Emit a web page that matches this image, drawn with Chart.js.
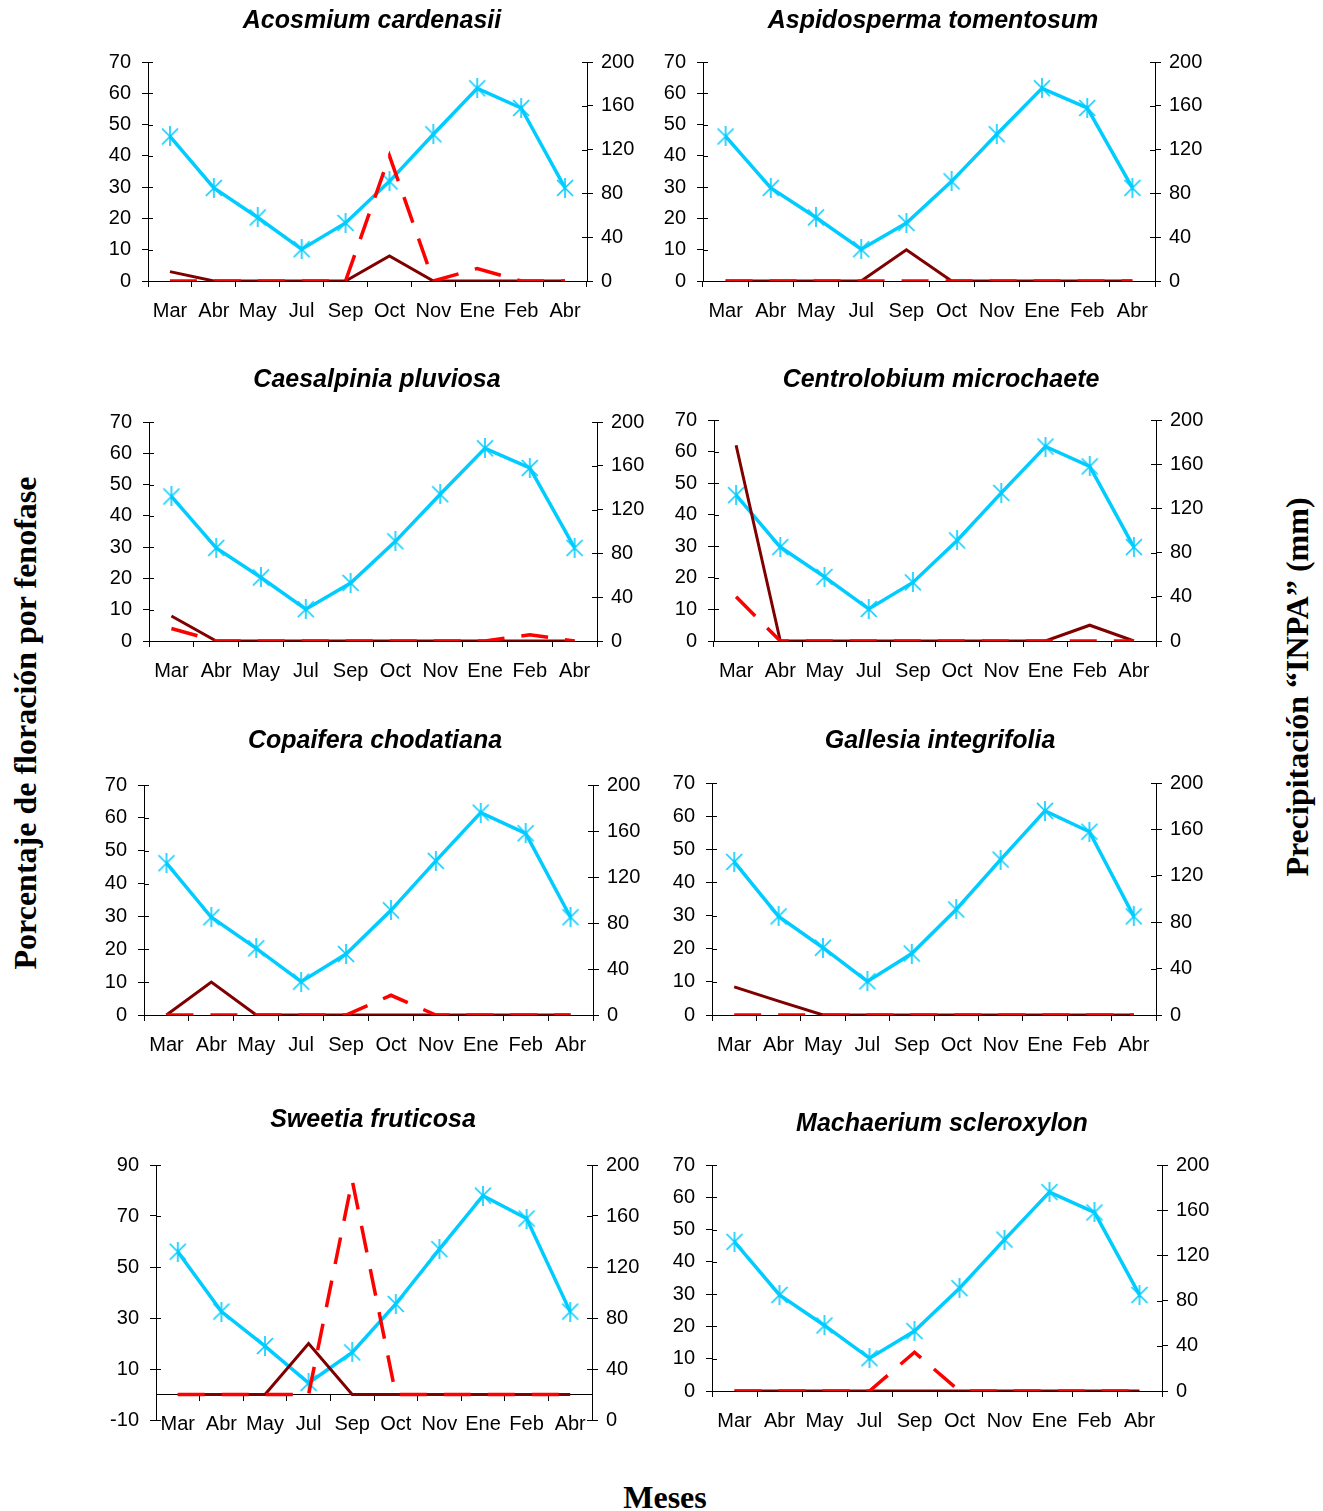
<!DOCTYPE html>
<html>
<head>
<meta charset="utf-8">
<script src="https://cdn.jsdelivr.net/npm/chart.js@4"></script>
<style>
  body { margin: 0; background: #fff; width: 1323px; height: 1511px; position: relative; overflow: hidden; }
  canvas { position: absolute; }
  .eje { position: absolute; font-family: "Liberation Serif", "Times New Roman", serif; font-weight: bold;
         font-size: 32px; white-space: nowrap; color: #000; transform-origin: center; }
</style>
</head>
<body>
<div class="eje" style="left:25px;top:723px;transform:translate(-50%,-50%) rotate(-90deg)">Porcentaje de floración por fenofase</div>
<div class="eje" style="left:1297px;top:687px;transform:translate(-50%,-50%) rotate(-90deg)">Precipitación “INPA” (mm)</div>
<div class="eje" style="left:665px;top:1497px;transform:translate(-50%,-50%)">Meses</div>

<script>
// meses de observación y precipitación (mm, eje derecho)
const meses = ['Mar', 'Abr', 'May', 'Jul', 'Sep', 'Oct', 'Nov', 'Ene', 'Feb', 'Abr'];
const precipitacion = [132, 85, 58, 29, 53, 91, 134, 176, 158, 85];

// % de floración: fase 1 (línea continua) y fase 2 (línea discontinua)
const acosmiumFase1 = [3, 0, 0, 0, 0, 8, 0, 0, 0, 0];
const acosmiumFase2 = [0, 0, 0, 0, 0, 40, 0, 4, 0, 0];
const aspidospermaFase1 = [0, 0, 0, 0, 10, 0, 0, 0, 0, 0];
const aspidospermaFase2 = [0, 0, 0, 0, 0, 0, 0, 0, 0, 0];
const caesalpiniaFase1 = [8, 0, 0, 0, 0, 0, 0, 0, 0, 0];
const caesalpiniaFase2 = [4, 0, 0, 0, 0, 0, 0, 0, 2, 0];
const centrolobiumFase1 = [62, 0, 0, 0, 0, 0, 0, 0, 5, 0];
const centrolobiumFase2 = [14, 0, 0, 0, 0, 0, 0, 0, 0, 0];
const copaiferaFase1 = [0, 10, 0, 0, 0, 0, 0, 0, 0, 0];
const copaiferaFase2 = [0, 0, 0, 0, 0, 6, 0, 0, 0, 0];
const gallesiaFase1 = [8.5, 4.2, 0, 0, 0, 0, 0, 0, 0, 0];
const gallesiaFase2 = [0, 0, 0, 0, 0, 0, 0, 0, 0, 0];
const sweetiaFase1 = [0, 0, 0, 20, 0, 0, 0, 0, 0, 0];
const sweetiaFase2 = [0, 0, 0, 0, 84, 0, 0, 0, 0, 0];
const machaeriumFase1 = [0, 0, 0, 0, 0, 0, 0, 0, 0, 0];
const machaeriumFase2 = [0, 0, 0, 0, 12, 0, 0, 0, 0, 0];

const ticksIzq = [0, 10, 20, 30, 40, 50, 60, 70];
const ticksIzqSweetia = [-10, 10, 30, 50, 70, 90];
const ticksDer = [0, 40, 80, 120, 160, 200];

const especies = [
  { titulo: 'Acosmium cardenasii', f1: acosmiumFase1, f2: acosmiumFase2 },
  { titulo: 'Aspidosperma tomentosum', f1: aspidospermaFase1, f2: aspidospermaFase2 },
  { titulo: 'Caesalpinia pluviosa', f1: caesalpiniaFase1, f2: caesalpiniaFase2 },
  { titulo: 'Centrolobium microchaete', f1: centrolobiumFase1, f2: centrolobiumFase2 },
  { titulo: 'Copaifera chodatiana', f1: copaiferaFase1, f2: copaiferaFase2 },
  { titulo: 'Gallesia integrifolia', f1: gallesiaFase1, f2: gallesiaFase2 },
  { titulo: 'Sweetia fruticosa', f1: sweetiaFase1, f2: sweetiaFase2, izq: ticksIzqSweetia },
  { titulo: 'Machaerium scleroxylon', f1: machaeriumFase1, f2: machaeriumFase2 }
];

// área de trazado de cada panel (px) y centro del título
const marcos = [
  { L: 148, R: 587, T: 62, B: 281, tx: 372, ty: 21 },
  { L: 703, R: 1155, T: 62, B: 281, tx: 933, ty: 21 },
  { L: 149, R: 597, T: 422, B: 641, tx: 377, ty: 380 },
  { L: 714, R: 1156, T: 420, B: 641, tx: 941, ty: 380 },
  { L: 144, R: 593, T: 785, B: 1015, tx: 375, ty: 741 },
  { L: 712, R: 1156, T: 783, B: 1015, tx: 940, ty: 741 },
  { L: 156, R: 592, T: 1165, B: 1420, tx: 373, ty: 1120, extra: 45 },
  { L: 712, R: 1162, T: 1165, B: 1391, tx: 942, ty: 1124 }
];

const fuente = '"Liberation Sans", Arial, sans-serif';
Chart.defaults.font.family = fuente;
Chart.defaults.color = '#000';

function asterisco(color) {
  const s = 20;
  const c = document.createElement('canvas');
  c.width = s; c.height = s;
  const g = c.getContext('2d');
  g.strokeStyle = color;
  g.lineWidth = 1.6;
  g.beginPath();
  g.moveTo(s / 2, 0); g.lineTo(s / 2, s);
  g.moveTo(2, 2); g.lineTo(s - 2, s - 2);
  g.moveTo(s - 2, 2); g.lineTo(2, s - 2);
  g.stroke();
  return c;
}
const marca = asterisco('#00CCFF');

// marcas de los ejes y que cruzan el eje (mitad interior)
const ticksCruzados = {
  id: 'ticksCruzados',
  afterDraw(chart) {
    const g = chart.ctx, a = chart.chartArea;
    g.save();
    g.strokeStyle = '#000';
    g.lineWidth = 1;
    ['y', 'y1'].forEach(id => {
      const s = chart.scales[id];
      const x0 = id === 'y' ? a.left : a.right;
      const dx = id === 'y' ? 5 : -5;
      s.ticks.forEach(t => {
        const py = Math.round(s.getPixelForValue(t.value)) + 0.5;
        g.beginPath();
        g.moveTo(x0, py);
        g.lineTo(x0 + dx, py);
        g.stroke();
      });
    });
    g.restore();
  }
};

especies.forEach((esp, i) => {
  const m = marcos[i];
  const izq = m.L - 70;
  const der = 2 * m.tx - izq;
  const arriba = m.ty - 21;
  const abajo = m.B + 45;
  const anchoDer = der - m.R;

  const cv = document.createElement('canvas');
  cv.width = der - izq;
  cv.height = abajo - arriba;
  cv.style.left = izq + 'px';
  cv.style.top = arriba + 'px';
  document.body.appendChild(cv);

  const tIzq = esp.izq || ticksIzq;

  new Chart(cv, {
    type: 'line',
    data: {
      labels: meses,
      datasets: [
        { data: esp.f2, yAxisID: 'y', borderColor: '#FF0000', borderWidth: 3.5, borderDash: [27, 17], pointRadius: 0 },
        { data: esp.f1, yAxisID: 'y', borderColor: '#800000', borderWidth: 3, pointRadius: 0 },
        { data: precipitacion, yAxisID: 'y1', borderColor: '#00CCFF', borderWidth: 3.5,
          pointStyle: marca, pointRadius: 10 }
      ]
    },
    plugins: [ticksCruzados],
    options: {
      responsive: false,
      animation: false,
      layout: { padding: { bottom: m.extra || 0 }, autoPadding: false },
      plugins: {
        legend: { display: false },
        tooltip: { enabled: false },
        title: {
          display: true, text: esp.titulo, color: '#000',
          font: { size: 25, weight: 'bold', style: 'italic', family: fuente },
          padding: { top: 6, bottom: m.T - arriba - 36 }
        }
      },
      scales: {
        x: {
          offset: true,
          position: esp.izq ? { y: 0 } : 'bottom',
          grid: { offset: true, drawOnChartArea: false, tickLength: 6, color: '#000' },
          border: { color: '#000' },
          ticks: { font: { size: 20 }, padding: 12, autoSkip: false, maxRotation: 0 },
          afterFit: s => { s.height = 45; }
        },
        y: {
          position: 'left',
          min: tIzq[0], max: tIzq[tIzq.length - 1],
          afterBuildTicks: s => { s.ticks = tIzq.map(v => ({ value: v })); },
          grid: { drawOnChartArea: false, tickLength: 6, color: '#000' },
          border: { color: '#000' },
          ticks: { font: { size: 20 }, padding: 11 },
          afterFit: s => { s.width = 70; }
        },
        y1: {
          position: 'right',
          min: 0, max: 200,
          afterBuildTicks: s => { s.ticks = ticksDer.map(v => ({ value: v })); },
          grid: { drawOnChartArea: false, tickLength: 6, color: '#000' },
          border: { color: '#000' },
          ticks: { font: { size: 20 }, padding: 8 },
          afterFit: s => { s.width = anchoDer; }
        }
      }
    }
  });
});
</script>
</body>
</html>
